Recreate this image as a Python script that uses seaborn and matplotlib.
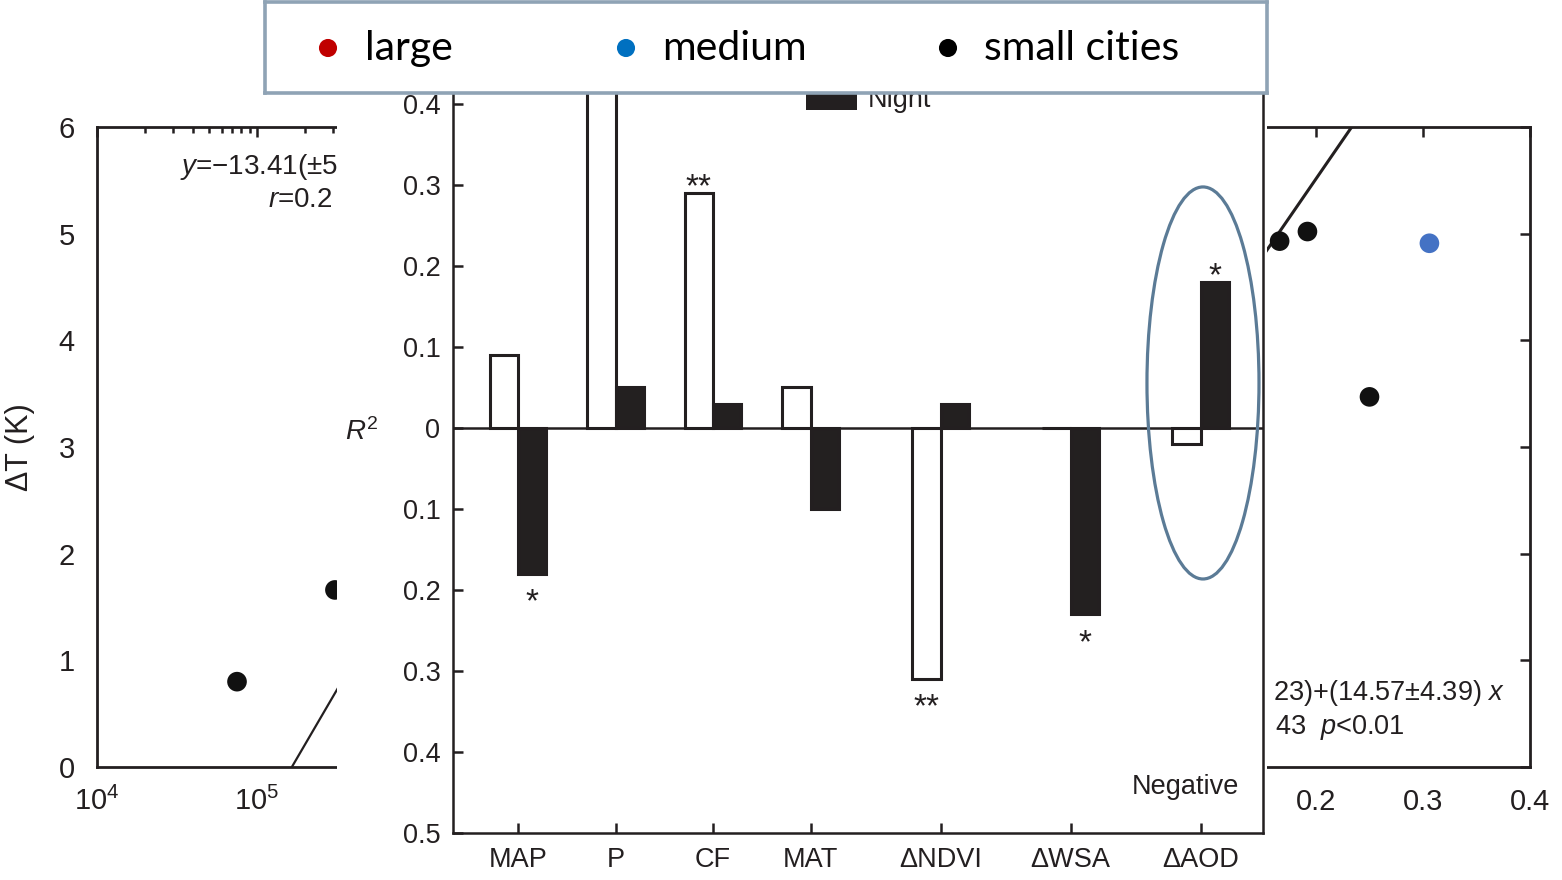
import numpy as np
import pandas as pd
import matplotlib
matplotlib.use("Agg")
import matplotlib.pyplot as plt
from matplotlib.patches import Ellipse, Rectangle
from matplotlib.ticker import FixedLocator, NullFormatter
import seaborn as sns

# ---------------- data ----------------
factors = ["MAP", "P", "CF", "MAT", "ΔNDVI", "ΔWSA", "ΔAOD"]
r2_day = [0.09, 0.56, 0.29, 0.05, -0.31, 0.0, -0.02]
r2_night = [-0.18, 0.05, 0.03, -0.10, 0.03, -0.23, 0.18]
day_stars = ["", "", "**", "", "**", "", ""]
night_stars = ["*", "", "", "", "", "*", "*"]

# population panel (left)
pop_size = [7.5e4, 3.07e5]
pop_dT = [0.80, 1.66]
pop_class = ["small", "small"]
pop_fit = (-13.41, 2.57)          # intercept, slope per decade

# aerosol panel (right)
aod_x = [0.166, 0.192, 0.306, 0.250]
aod_dT = [4.93, 5.02, 4.91, 3.47]
aod_class = ["small", "small", "medium", "small"]
aod_fit = (2.60, 14.57)           # intercept, slope

key_labels = ["large", "medium", "small cities"]
key_classes = ["large", "medium", "small"]

# ---------------- style ----------------
sns.set_style("white")
plt.rcParams["font.family"] = ["Liberation Sans", "DejaVu Sans"]
plt.rcParams["mathtext.fontset"] = "custom"
plt.rcParams["mathtext.rm"] = "Liberation Sans"
plt.rcParams["mathtext.it"] = "Liberation Sans:italic"

INK = "#231f20"
class_colors = {"large": "#C00000", "medium": "#4472C4", "small": "#111111"}
key_colors = {"large": "#C00000", "medium": "#0070C0", "small": "#000000"}

W, H = 1562, 880
fig = plt.figure(figsize=(W / 100, H / 100), dpi=100)


def box(x0, y0, x1, y1):
    return [x0 / W, 1 - y1 / H, (x1 - x0) / W, (y1 - y0) / H]


ax_l = fig.add_axes(box(97, 127, 577, 767))
ax_r = fig.add_axes(box(1102, 127, 1530, 767))
sheet = fig.add_axes(box(337, 0, 1267, 880))
ax_c = fig.add_axes(box(453, 23, 1263, 833))
ax_k = fig.add_axes(box(265, 2, 1267, 93))

# ---------------- left: ΔT vs population ----------------
ax_l.set_xscale("log")
ax_l.set_xlim(1e4, 1e7)
ax_l.set_ylim(0, 6)
sns.scatterplot(x=pop_size, y=pop_dT, hue=pop_class, palette=class_colors,
                s=200, edgecolor="none", legend=False, ax=ax_l, zorder=3)
xx = np.logspace(4, 7, 50)
ax_l.plot(xx, pop_fit[0] + pop_fit[1] * np.log10(xx), color=INK, lw=1.6)
ax_l.xaxis.set_major_locator(FixedLocator([1e4, 1e5, 1e6]))
ax_l.set_xticklabels([r"$10^4$", r"$10^5$", ""])
ax_l.xaxis.set_minor_locator(FixedLocator(
    [m * 10 ** e for e in (4, 5, 6) for m in range(2, 10)]))
ax_l.xaxis.set_minor_formatter(NullFormatter())
ax_l.set_yticks(range(7))
ax_l.tick_params(which="both", direction="in", top=True, right=True,
                 width=1.8, colors=INK, labelsize=21)
ax_l.tick_params(which="major", length=7)
ax_l.tick_params(which="minor", length=4)
ax_l.tick_params(axis="y", pad=16)
ax_l.tick_params(axis="x", pad=14)
for s in ax_l.spines.values():
    s.set_linewidth(2.0)
    s.set_color(INK)
ax_l.text(-0.1604, 0.5, "ΔT (K)", transform=ax_l.transAxes, rotation=90,
          ha="center", va="center", fontsize=22, color=INK)
ax_l.text(0.1729, 0.9375, "$y$=−13.41(±5", transform=ax_l.transAxes,
          ha="left", va="center", fontsize=20, color=INK)
ax_l.text(0.3563, 0.8859, "$r$=0.2", transform=ax_l.transAxes,
          ha="left", va="center", fontsize=20, color=INK)

# ---------------- right: ΔT vs AOD ----------------
ax_r.set_xlim(0, 0.4)
ax_r.set_ylim(0, 6)
sns.scatterplot(x=aod_x, y=aod_dT, hue=aod_class, palette=class_colors,
                s=200, edgecolor="none", legend=False, ax=ax_r, zorder=3)
xa = np.linspace(0, 0.4, 50)
ax_r.plot(xa, aod_fit[0] + aod_fit[1] * xa, color=INK, lw=2.2)
ax_r.set_xticks([0.1, 0.2, 0.3, 0.4])
ax_r.set_xticklabels(["", "0.2", "0.3", "0.4"])
ax_r.set_yticks(range(7))
ax_r.tick_params(direction="in", top=True, right=True, length=7, width=1.8,
                 colors=INK, labelsize=21, labelleft=False, pad=15)
for s in ax_r.spines.values():
    s.set_linewidth(2.0)
    s.set_color(INK)
ax_r.text(0.3995, 0.1156, "23)+(14.57±4.39) $x$", transform=ax_r.transAxes,
          ha="left", va="center", fontsize=19.5, color=INK)
ax_r.text(0.4042, 0.0625, "43  $p$<0.01", transform=ax_r.transAxes,
          ha="left", va="center", fontsize=19.5, color=INK)

# ---------------- white sheet behind the R² chart ----------------
sheet.set_facecolor("white")
sheet.set_xticks([])
sheet.set_yticks([])
for s in sheet.spines.values():
    s.set_visible(False)

# ---------------- centre: R² of ΔT against each factor ----------------
positions = [0, 1, 2, 3, 13 / 3, 17 / 3, 7]
bar_w = 0.58
df = pd.DataFrame({
    "pos": positions * 2,
    "r2": r2_day + r2_night,
    "period": ["Day"] * len(factors) + ["Night"] * len(factors),
})
sns.barplot(data=df, x="pos", y="r2", hue="period", native_scale=True,
            width=bar_w, palette={"Day": "white", "Night": INK},
            edgecolor=INK, linewidth=2.2, errorbar=None, legend=False,
            ax=ax_c, zorder=2)
ax_c.set_xlim(-0.667, 7.641)
ax_c.set_ylim(-0.5, 0.5)
ax_c.axhline(0, color=INK, lw=1.8, zorder=3)
ax_c.set_xticks(positions)
ax_c.set_xticklabels(factors)
yt = np.round(np.arange(-0.5, 0.41, 0.1), 1)
ax_c.set_yticks(yt)
ax_c.set_yticklabels(["0" if abs(v) < 1e-9 else f"{abs(v):.1f}" for v in yt])
ax_c.set_xlabel("")
ax_c.set_ylabel("")
ax_c.tick_params(direction="in", length=7, width=1.8, colors=INK,
                 labelsize=19.5, left=True, bottom=True)
ax_c.tick_params(axis="y", pad=9)
ax_c.tick_params(axis="x", pad=10)
for s in ax_c.spines.values():
    s.set_linewidth(1.8)
    s.set_color(INK)

# significance marks beside the bar ends
half = bar_w / 4
for p, v, st in zip(positions, r2_day, day_stars):
    if st:
        ax_c.annotate(st, (p - half, v), xytext=(0, -2 if v > 0 else -27),
                      textcoords="offset points", ha="center", va="baseline",
                      fontsize=24, color=INK)
for p, v, st in zip(positions, r2_night, night_stars):
    if st:
        ax_c.annotate(st, (p + half, v), xytext=(0, -2 if v > 0 else -27),
                      textcoords="offset points", ha="center", va="baseline",
                      fontsize=24, color=INK)

ax_c.text(-0.1123, 0.495, "$R^2$", transform=ax_c.transAxes, ha="center",
          va="center", fontsize=20, color=INK)
ax_c.text(0.9037, 0.0568, "Negative", transform=ax_c.transAxes, ha="center",
          va="center", fontsize=19.5, color=INK)
ax_c.add_patch(Rectangle((0.4358, 0.8926), 0.063, 0.022,
                         transform=ax_c.transAxes, facecolor=INK,
                         edgecolor="none", clip_on=False))
ax_c.text(0.5123, 0.8963, "Night", transform=ax_c.transAxes, ha="left",
          va="baseline", fontsize=19.5, color=INK)
ax_c.add_patch(Ellipse((0.9259, 0.5556), 0.1383, 0.484,
                       transform=ax_c.transAxes, fill=False,
                       edgecolor="#5B7B96", lw=2.3, clip_on=False, zorder=5))

# ---------------- city size key ----------------
ax_k.set_facecolor("white")
ax_k.set_xlim(265, 1267)
ax_k.set_ylim(93, 2)
key_x = [328, 626, 948]
text_x = [365, 662, 984]
sns.scatterplot(x=key_x, y=[48] * 3, hue=key_classes, palette=key_colors,
                s=170, edgecolor="none", legend=False, ax=ax_k)
for tx, lab in zip(text_x, key_labels):
    ax_k.text(tx, 60, lab, ha="left", va="baseline", fontsize=29.5,
              family="Lato", color="black")
ax_k.set_xticks([])
ax_k.set_yticks([])
ax_k.set_xlabel("")
ax_k.set_ylabel("")
for s in ax_k.spines.values():
    s.set_visible(True)
    s.set_linewidth(2.6)
    s.set_color("#8FA3B5")

fig.savefig("out.png", dpi=100)
